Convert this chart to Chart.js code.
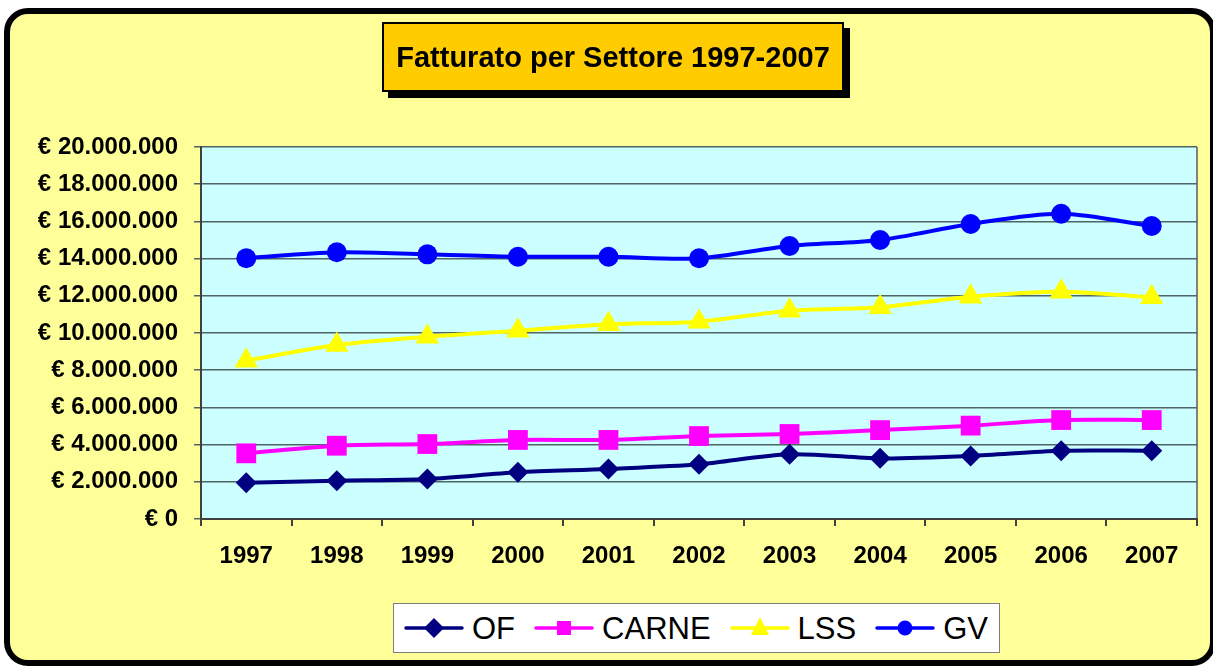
<!DOCTYPE html>
<html>
<head>
<meta charset="utf-8">
<script src="https://cdn.jsdelivr.net/npm/chart.js@4.4.1/dist/chart.umd.min.js"></script>
<style>
  html, body { margin:0; padding:0; width:1213px; height:666px; overflow:hidden; background:#ffffff; font-family:"Liberation Sans", Arial, sans-serif; }
  #frame { position:absolute; left:4px; top:8px; width:1200px; height:646px; border:6px solid #000; border-radius:24px; background:#FFFF99; box-sizing:content-box; }
  #wrap { position:absolute; left:0; top:0; width:1213px; height:666px; }
  #title { position:absolute; left:382px; top:22px; width:458px; height:66px; background:#FFCC00; border:2px solid #000; box-shadow:6px 6px 0 #000; display:flex; align-items:center; justify-content:center; font-weight:bold; font-size:29px; color:#000; white-space:nowrap; }
  #legend { position:absolute; left:393px; top:603px; width:605px; height:48px; background:#fff; border:1px solid #7f7f7f; display:flex; align-items:center; justify-content:flex-start; padding-left:10px; box-sizing:content-box; width:595px; }
  .li { display:flex; align-items:center; margin-right:19px; }
  .li span { font-size:31px; color:#000; margin-left:8px; line-height:31px; }
</style>
</head>
<body>
<div id="frame"></div>
<div id="wrap"><canvas id="c" width="1213" height="666"></canvas></div>
<div id="title">Fatturato per Settore 1997-2007</div>
<div id="legend"></div>
<script>
const categories = ['1997','1998','1999','2000','2001','2002','2003','2004','2005','2006','2007'];
const seriesNames = ['OF','CARNE','LSS','GV'];
const valuesOF    = [1950000, 2060000, 2150000, 2510000, 2690000, 2940000, 3480000, 3260000, 3390000, 3670000, 3670000];
const valuesCARNE = [3530000, 3940000, 4030000, 4250000, 4250000, 4460000, 4570000, 4780000, 5020000, 5320000, 5320000];
const valuesLSS   = [8510000, 9350000, 9800000, 10120000, 10470000, 10610000, 11200000, 11380000, 11950000, 12220000, 11920000];
const valuesGV    = [14020000, 14340000, 14230000, 14100000, 14100000, 14020000, 14680000, 15000000, 15860000, 16410000, 15750000];
const yTickValues = [0, 2000000, 4000000, 6000000, 8000000, 10000000, 12000000, 14000000, 16000000, 18000000, 20000000];

const colors = ['#000080', '#FF00FF', '#FFFF00', '#0000FF'];
const styles = ['rectRot', 'rect', 'triangle', 'circle'];
const radii  = [10.5, 14, 13.5, 10];
const allValues = [valuesOF, valuesCARNE, valuesLSS, valuesGV];

function fmt(v) {
  return '€ ' + String(v).replace(/\B(?=(\d{3})+(?!\d))/g, '.');
}

const plotBg = {
  id: 'plotBg',
  beforeDraw(chart) {
    const {ctx, chartArea: a} = chart;
    ctx.save();
    ctx.fillStyle = '#CCFFFF';
    ctx.fillRect(a.left, a.top, a.right - a.left, a.bottom - a.top);
    ctx.strokeStyle = '#808080';
    ctx.lineWidth = 2;
    ctx.beginPath();
    ctx.moveTo(a.right, a.top);
    ctx.lineTo(a.right, a.bottom);
    ctx.stroke();
    ctx.restore();
  }
};

const datasets = seriesNames.map((n, i) => ({
  label: n,
  data: allValues[i],
  borderColor: colors[i],
  backgroundColor: colors[i],
  borderWidth: 4,
  pointStyle: styles[i],
  pointRadius: radii[i],
  pointHoverRadius: radii[i],
  pointBackgroundColor: colors[i],
  pointBorderColor: colors[i],
  pointBorderWidth: 0,
  tension: 0.3,
  order: 4 - i
}));

const tickFont = { family: '"Liberation Sans", Arial', size: 24, weight: 'bold' };

new Chart(document.getElementById('c'), {
  type: 'line',
  data: { labels: categories, datasets },
  plugins: [plotBg],
  options: {
    responsive: false,
    animation: false,
    events: [],
    layout: { padding: { top: 147, left: 0, right: 16, bottom: 92 } },
    plugins: { legend: { display: false }, title: { display: false }, tooltip: { enabled: false } },
    scales: {
      x: {
        offset: true,
        grid: { offset: true, drawOnChartArea: false, drawTicks: true, tickLength: 7, color: '#404040', lineWidth: 2 },
        border: { color: '#404040', width: 2 },
        ticks: { color: '#000', font: tickFont, padding: 16, maxRotation: 0, autoSkip: false },
        afterFit(s) { s.height = 55; }
      },
      y: {
        min: 0, max: 20000000,
        afterBuildTicks(s) { s.ticks = yTickValues.map(v => ({ value: v })); },
        grid: { color: '#4F6464', lineWidth: 1.5, tickLength: 7, drawTicks: true },
        border: { color: '#404040', width: 2 },
        ticks: { color: '#000', font: tickFont, padding: 16, callback: v => fmt(v) },
        afterFit(s) { s.width = 201; }
      }
    }
  }
});

// legend in DOM with SVG markers
const leg = document.getElementById('legend');
seriesNames.forEach((n, i) => {
  const c = colors[i];
  let marker = '';
  if (styles[i] === 'rectRot') marker = `<polygon points="30,5 40,15 30,25 20,15" fill="${c}"/>`;
  if (styles[i] === 'rect') marker = `<rect x="23" y="8" width="14" height="14" fill="${c}"/>`;
  if (styles[i] === 'triangle') marker = `<polygon points="30,4 39,22 21,22" fill="${c}"/>`;
  if (styles[i] === 'circle') marker = `<circle cx="30" cy="15" r="7.5" fill="${c}"/>`;
  const d = document.createElement('div');
  d.className = 'li';
  d.innerHTML = `<svg width="60" height="30"><line x1="2" y1="15" x2="58" y2="15" stroke="${c}" stroke-width="3.5" stroke-linecap="round"/>${marker}</svg><span>${n}</span>`;
  leg.appendChild(d);
});
</script>
</body>
</html>
